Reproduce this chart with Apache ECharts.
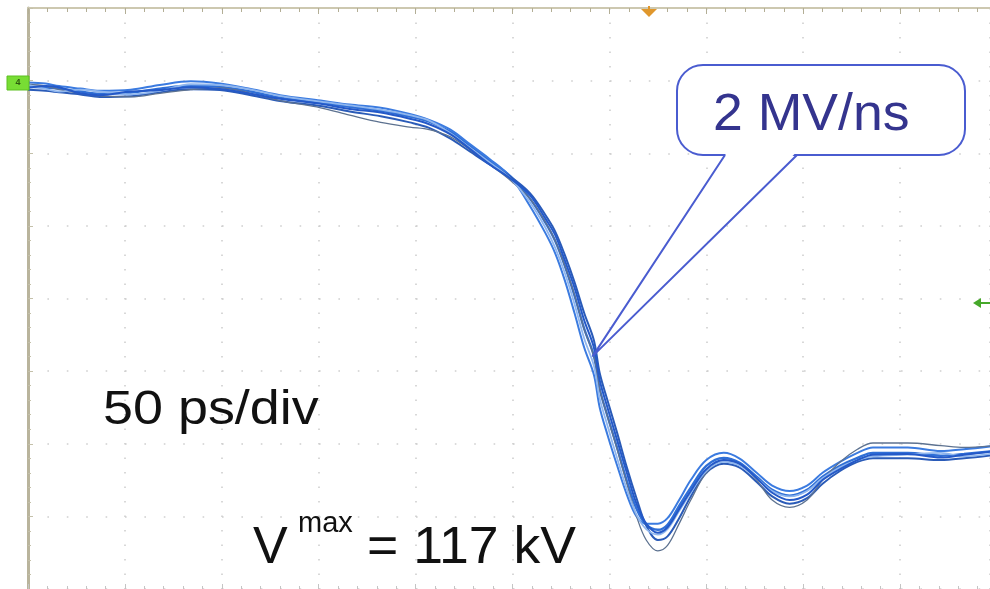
<!DOCTYPE html>
<html><head><meta charset="utf-8">
<script src="https://cdn.jsdelivr.net/npm/echarts@6/dist/echarts.min.js"></script>
<style>html,body{margin:0;padding:0;background:#fff}#c{width:990px;height:589px}</style>
</head><body><div id="c"></div>
<script>
// time in ps (50 ps/div), voltage in kV (20 kV/div)
const timePs = [0, 9, 16, 27, 37, 53, 68, 84, 99, 115, 130, 151, 166, 182, 197, 207, 218, 228, 238, 249, 259, 267, 272, 277, 282, 287, 292, 295, 299, 304, 309, 314, 319, 325, 330, 336, 342, 350, 359, 367, 376, 384, 393, 402, 410, 419, 428, 436, 454, 471, 483, 500];
const traceA = [-1.7, -1.9, -2.2, -3.0, -3.6, -3.3, -2.2, -1.4, -1.7, -3.0, -4.7, -6.1, -7.2, -8.3, -9.9, -11.3, -14.1, -17.9, -22.0, -26.4, -32.5, -39.1, -44.1, -51.0, -59.2, -68.3, -75.8, -84.9, -92.3, -101.1, -110.2, -117.9, -122.3, -123.7, -122.3, -117.1, -112.1, -106.1, -103.9, -105.2, -109.1, -112.7, -114.3, -112.7, -109.1, -106.1, -103.9, -102.5, -102.5, -103.3, -102.8, -101.9];
const traceB = [-0.5, -0.8, -1.5, -2.2, -2.8, -2.5, -1.2, -0.2, -0.8, -2.3, -4.0, -5.5, -6.6, -7.5, -9.2, -10.8, -13.5, -17.5, -21.5, -26.5, -34.5, -42.0, -47.5, -55.0, -64.0, -73.5, -81.0, -90.0, -97.5, -106.0, -114.0, -120.0, -122.0, -122.0, -120.5, -115.5, -110.0, -104.5, -102.5, -104.0, -108.0, -111.5, -113.0, -111.5, -108.0, -105.0, -102.5, -101.0, -101.0, -102.0, -101.5, -100.5];
const traceC = [-2.5, -2.8, -3.2, -3.8, -4.5, -4.3, -3.2, -2.4, -2.6, -4.0, -5.6, -7.0, -8.5, -9.8, -11.5, -13.0, -16.0, -19.5, -23.0, -26.5, -31.0, -37.0, -41.5, -48.0, -55.5, -64.0, -71.5, -80.5, -88.0, -97.0, -106.5, -115.0, -122.5, -126.5, -125.5, -120.5, -114.5, -108.0, -105.5, -106.5, -110.5, -114.5, -116.5, -115.0, -111.0, -107.5, -105.0, -104.0, -104.0, -104.5, -104.0, -103.0];
const traceD = [-1.0, -1.5, -2.5, -3.5, -4.2, -4.5, -3.5, -2.5, -2.0, -3.5, -5.5, -7.5, -9.5, -11.5, -12.8, -13.5, -15.5, -19.0, -23.0, -27.5, -32.5, -39.0, -44.0, -51.0, -59.0, -68.5, -76.0, -85.0, -92.5, -101.5, -111.0, -120.0, -126.5, -129.5, -128.0, -122.0, -115.5, -108.0, -104.5, -105.5, -110.0, -115.5, -117.5, -115.5, -110.0, -105.0, -101.5, -99.8, -99.8, -100.5, -101.0, -100.5];
const traceE = [-1.2, -2.3, -3.0, -2.5, -3.0, -3.8, -2.8, -1.0, -1.2, -2.5, -4.2, -5.8, -6.8, -8.0, -9.5, -11.0, -14.5, -18.5, -22.5, -27.0, -33.5, -40.5, -46.0, -53.0, -61.5, -71.0, -78.5, -87.5, -95.0, -104.0, -112.5, -119.5, -123.5, -125.0, -123.5, -118.5, -113.5, -107.5, -105.0, -106.0, -109.5, -113.0, -114.5, -113.0, -109.5, -106.5, -104.5, -103.5, -103.0, -102.5, -103.5, -102.5];
const traceF = [-2.0, -1.5, -1.8, -3.5, -4.0, -3.0, -2.6, -1.8, -2.3, -3.6, -5.0, -6.4, -7.8, -8.8, -10.5, -12.0, -14.8, -18.8, -23.0, -27.0, -31.5, -38.0, -42.5, -49.5, -57.0, -66.0, -73.5, -82.5, -90.0, -99.0, -108.0, -116.5, -122.0, -124.5, -123.0, -118.0, -113.0, -107.0, -104.5, -105.5, -109.5, -113.5, -115.5, -114.0, -110.0, -107.0, -104.5, -103.0, -102.8, -103.8, -103.0, -102.0];

const traceNames = ['A', 'B', 'C', 'D', 'E', 'F'];
const traces = [traceA, traceB, traceC, traceD, traceE, traceF];
const traceColors = ['#2f6fd6', '#3b7be0', '#2a5bb8', '#5d7290', '#8fb6ee', '#2459c8'];
const traceWidths = [2.4, 2, 2, 1.3, 1.8, 2];

const slopeLabel = '2 MV/ns';
const timebaseLabel = '50 ps/div';
const vLabel = 'V';
const vSup = 'max';
const vValue = '= 117 kV';
const channelLabel = '4';
const calloutTip = [291.5, -75.8];
const xMax = 496.4;

const chart = echarts.init(document.getElementById('c'), null, {renderer: 'canvas'});
const font = '"Liberation Sans", Arial, Helvetica, sans-serif';

const series = traces.map((t, i) => ({
  name: traceNames[i],
  type: 'line',
  data: timePs.map((x, k) => [x, t[k]]),
  showSymbol: false,
  smooth: 0.35,
  lineStyle: {color: traceColors[i], width: traceWidths[i]},
  z: 3,
  silent: true
}));

chart.setOption({
  animation: false,
  backgroundColor: '#ffffff',
  grid: {left: 28, right: 0, top: 8, bottom: 0},
  xAxis: [{
    type: 'value', min: 0, max: xMax, interval: 50, position: 'top',
    axisLine: {show: true, onZero: false, lineStyle: {color: '#cdc8b0', width: 2}},
    axisTick: {show: true, inside: true, length: 6, lineStyle: {color: '#b3ae96', width: 1}},
    minorTick: {show: true, splitNumber: 5, length: 4, lineStyle: {color: '#b3ae96', width: 1}},
    axisLabel: {show: false},
    splitLine: {show: true, lineStyle: {color: '#cfcfcf', width: 1.6, type: [1.6, 12.9]}}
  }, {
    type: 'value', min: 0, max: xMax, interval: 50, position: 'bottom',
    axisLine: {show: false, onZero: false},
    axisTick: {show: true, inside: true, length: 5, lineStyle: {color: '#c4c4c4'}},
    minorTick: {show: true, splitNumber: 5, length: 3, lineStyle: {color: '#c4c4c4'}},
    axisLabel: {show: false},
    splitLine: {show: false}
  }],
  yAxis: {
    type: 'value', min: -140, max: 20, interval: 20,
    axisLine: {show: true, onZero: false, lineStyle: {color: '#b9b49c', width: 3}},
    axisTick: {show: true, inside: true, length: 5, lineStyle: {color: '#c4c0aa'}},
    minorTick: {show: true, splitNumber: 5, length: 3, lineStyle: {color: '#c4c0aa'}},
    axisLabel: {show: false},
    splitLine: {show: true, lineStyle: {color: '#cfcfcf', width: 1.6, type: [1.6, 17.8]}}
  },
  series: series
});

const tip = chart.convertToPixel({xAxisIndex: 0, yAxisIndex: 0}, calloutTip);
const L = 677, R = 965, T = 65, B = 155, b1 = 725, b2 = 797;

chart.setOption({
  graphic: [
    {type: 'rect', z: 10, shape: {x: L, y: T, width: R - L, height: B - T, r: 26},
     style: {fill: '#ffffff', stroke: '#4a5cd0', lineWidth: 2}},
    {type: 'polygon', z: 11, shape: {points: [[b1 + 1.5, B - 2], tip, [b2 - 1.5, B - 2]]},
     style: {fill: '#ffffff', stroke: null}},
    {type: 'polyline', z: 12, shape: {points: [[b1, B], tip, [b2, B]]},
     style: {fill: null, stroke: '#4a5cd0', lineWidth: 2, lineJoin: 'round'}},
    {type: 'text', z: 13, x: 713, y: 116, scaleX: 1.03,
     style: {text: slopeLabel, font: '52px ' + font, fill: '#34348e', verticalAlign: 'middle', align: 'left'}},
    {type: 'text', z: 13, x: 103, y: 410, scaleX: 1.1,
     style: {text: timebaseLabel, font: '49px ' + font, fill: '#111111', verticalAlign: 'middle', align: 'left'}},
    {type: 'text', z: 13, x: 253, y: 549,
     style: {text: vLabel, font: '52px ' + font, fill: '#111111', verticalAlign: 'middle', align: 'left'}},
    {type: 'text', z: 13, x: 298, y: 524,
     style: {text: vSup, font: '29px ' + font, fill: '#111111', verticalAlign: 'middle', align: 'left'}},
    {type: 'text', z: 13, x: 367, y: 549, scaleX: 1.03,
     style: {text: vValue, font: '52px ' + font, fill: '#111111', verticalAlign: 'middle', align: 'left'}},
    {type: 'rect', z: 14, shape: {x: 7, y: 76, width: 22, height: 14},
     style: {fill: '#78dd34', stroke: '#5cc020', lineWidth: 1}},
    {type: 'text', z: 15, x: 18, y: 83,
     style: {text: channelLabel, font: 'bold 9px ' + font, fill: '#2f5a10', align: 'center', verticalAlign: 'middle'}},
    {type: 'polygon', z: 14, shape: {points: [[641, 9], [657, 9], [649, 17]]},
     style: {fill: '#e0972c'}},
    {type: 'rect', z: 14, shape: {x: 648, y: 6, width: 2, height: 5}, style: {fill: '#e0972c'}},
    {type: 'polygon', z: 14, shape: {points: [[973, 303], [981, 298], [981, 308]]},
     style: {fill: '#46a82a'}},
    {type: 'rect', z: 14, shape: {x: 980, y: 302, width: 10, height: 2}, style: {fill: '#46a82a'}}
  ]
});
</script>
</body></html>
